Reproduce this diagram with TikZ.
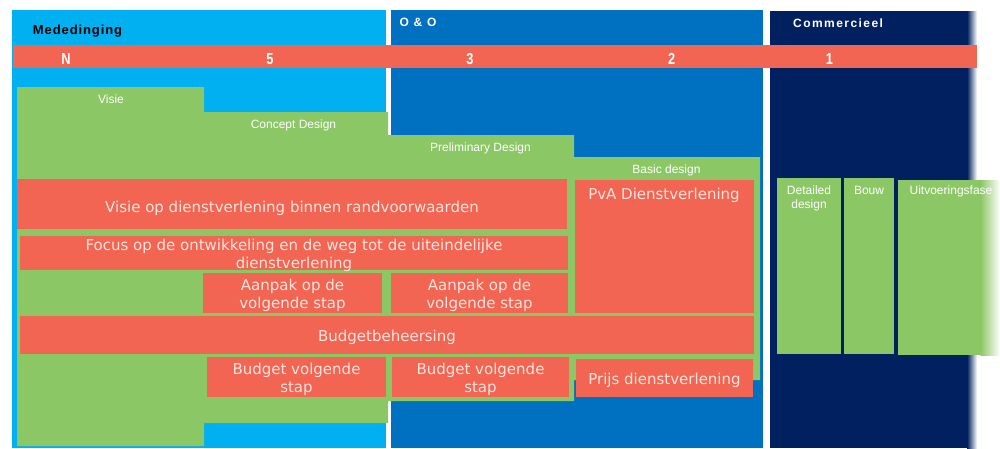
\documentclass[tikz,border=0pt]{standalone}
\usepackage{fontspec}
\setmainfont{Liberation Sans}
\newfontfamily\boxfont{DejaVu Sans}
\newfontfamily\numfont[FakeStretch=0.8]{Liberation Sans}
\newfontfamily\headfont[LetterSpace=12]{Liberation Sans}
\newfontfamily\headfontb[LetterSpace=7]{Liberation Sans}
\definecolor{lblue}{RGB}{0,176,240}
\definecolor{oblue}{RGB}{0,112,192}
\definecolor{navy}{RGB}{0,32,96}
\definecolor{rred}{RGB}{241,101,82}
\definecolor{lgreen}{RGB}{140,199,101}
\definecolor{pinktext}{RGB}{255,228,222}
\tikzset{
  redfill/.style={fill=rred},
  greenfill/.style={fill=lgreen},
  redtext/.style={font=\boxfont\fontsize{15}{18}\selectfont, text=pinktext, inner sep=0pt, align=center},
  greentext/.style={font=\fontsize{12}{14}\selectfont, text=white, inner sep=0pt, align=center},
  numtext/.style={font=\numfont\bfseries\fontsize{16}{16}\selectfont, text=white, inner sep=0pt},
  headtext/.style={font=\headfont\bfseries\fontsize{12}{12}\selectfont, text=white, inner sep=0pt}
}
\begin{document}
\begin{tikzpicture}[x=1pt,y=-1pt]
\useasboundingbox (0,0) rectangle (1000,448);
% panels
\fill[lblue] (12,10) rectangle (386,448);
\fill[oblue] (391,10) rectangle (763,448);
\fill[navy] (770,11) rectangle (967.5,448);
\shade[left color=navy, right color=white] (967,11) rectangle (977,448);
% red band
\fill[redfill] (13,45) rectangle (977,68);
% header texts
\node[headtext, text=black, font=\headfontb\bfseries\fontsize{13}{13}\selectfont, anchor=base west] (hMed) at (32.7,34) {Mededinging};
\node[headtext, anchor=base west] (hOO) at (399.3,26.8) {O \& O};
\node[headtext, anchor=base west] (hCom) at (793,27.3) {Commercieel};
% numbers
\node[numtext, anchor=base] (nN) at (66,64.5) {N};
\node[numtext, anchor=base] (n5) at (270,64.5) {5};
\node[numtext, anchor=base] (n3) at (470,64.5) {3};
\node[numtext, anchor=base] (n2) at (671.7,64.5) {2};
\node[numtext, anchor=base] (n1) at (829.3,64.5) {1};
% green staircase
\fill[greenfill] (17,87) -- (204,87) -- (204,112) -- (388,112) -- (388,135) -- (574,135)
  -- (574,157) -- (760,157) -- (760,380) -- (574,380) -- (574,401) -- (388,401)
  -- (388,423) -- (204,423) -- (204,446) -- (17,446) -- cycle;
\node[greentext, anchor=base] (lVisie) at (111,103.3) {Visie};
\node[greentext, anchor=base] (lConcept) at (293.5,128.7) {Concept Design};
\node[greentext, anchor=base] (lPrelim) at (480.5,151.7) {Preliminary Design};
\node[greentext, anchor=base] (lBasic) at (666.5,173.3) {Basic design};
% red boxes
\fill[redfill] (17,179) rectangle (567,229);
\fill[redfill] (575,180) rectangle (754,313);
\fill[redfill] (20,236) rectangle (568,270);
\fill[redfill] (203,273) rectangle (382,313);
\fill[redfill] (391,273) rectangle (568,313);
\fill[redfill] (20,316) rectangle (754,354);
\fill[redfill] (207,357) rectangle (386,397);
\fill[redfill] (392,357) rectangle (569,397);
\fill[redfill] (576,359) rectangle (753,397);
\node[redtext, anchor=base] (tVisie) at (292,212) {Visie op dienstverlening binnen randvoorwaarden};
\node[redtext, anchor=base] (tPvA) at (664,199) {PvA Dienstverlening};
\node[redtext] (tFocus) at (294,255) {Focus op de ontwikkeling en de weg tot de uiteindelijke\\dienstverlening};
\node[redtext] (tAanpak1) at (292.5,295.5) {Aanpak op de\\volgende stap};
\node[redtext] (tAanpak2) at (479.5,295.5) {Aanpak op de\\volgende stap};
\node[redtext, anchor=base] (tBudget) at (387,341.5) {Budgetbeheersing};
\node[redtext] (tBvs1) at (296.5,379.5) {Budget volgende\\stap};
\node[redtext] (tBvs2) at (480.5,379.5) {Budget volgende\\stap};
\node[redtext, anchor=base] (tPrijs) at (664.5,384.3) {Prijs dienstverlening};
% commercieel boxes
\fill[greenfill] (777,178) rectangle (841,354);
\fill[greenfill] (844,178) rectangle (894,354);
\fill[greenfill] (898,180) rectangle (981,355);
\shade[left color=lgreen, right color=white] (980.5,180) rectangle (1000,355);
\node[greentext, font=\fontsize{12}{14}\selectfont] (lDetailed) at (809,198.2) {Detailed\\design};
\node[greentext, anchor=base] (lBouw) at (869,194.3) {Bouw};
\node[greentext, anchor=base] (lUitv) at (951,194.3) {Uitvoeringsfase};
\end{tikzpicture}
\end{document}
